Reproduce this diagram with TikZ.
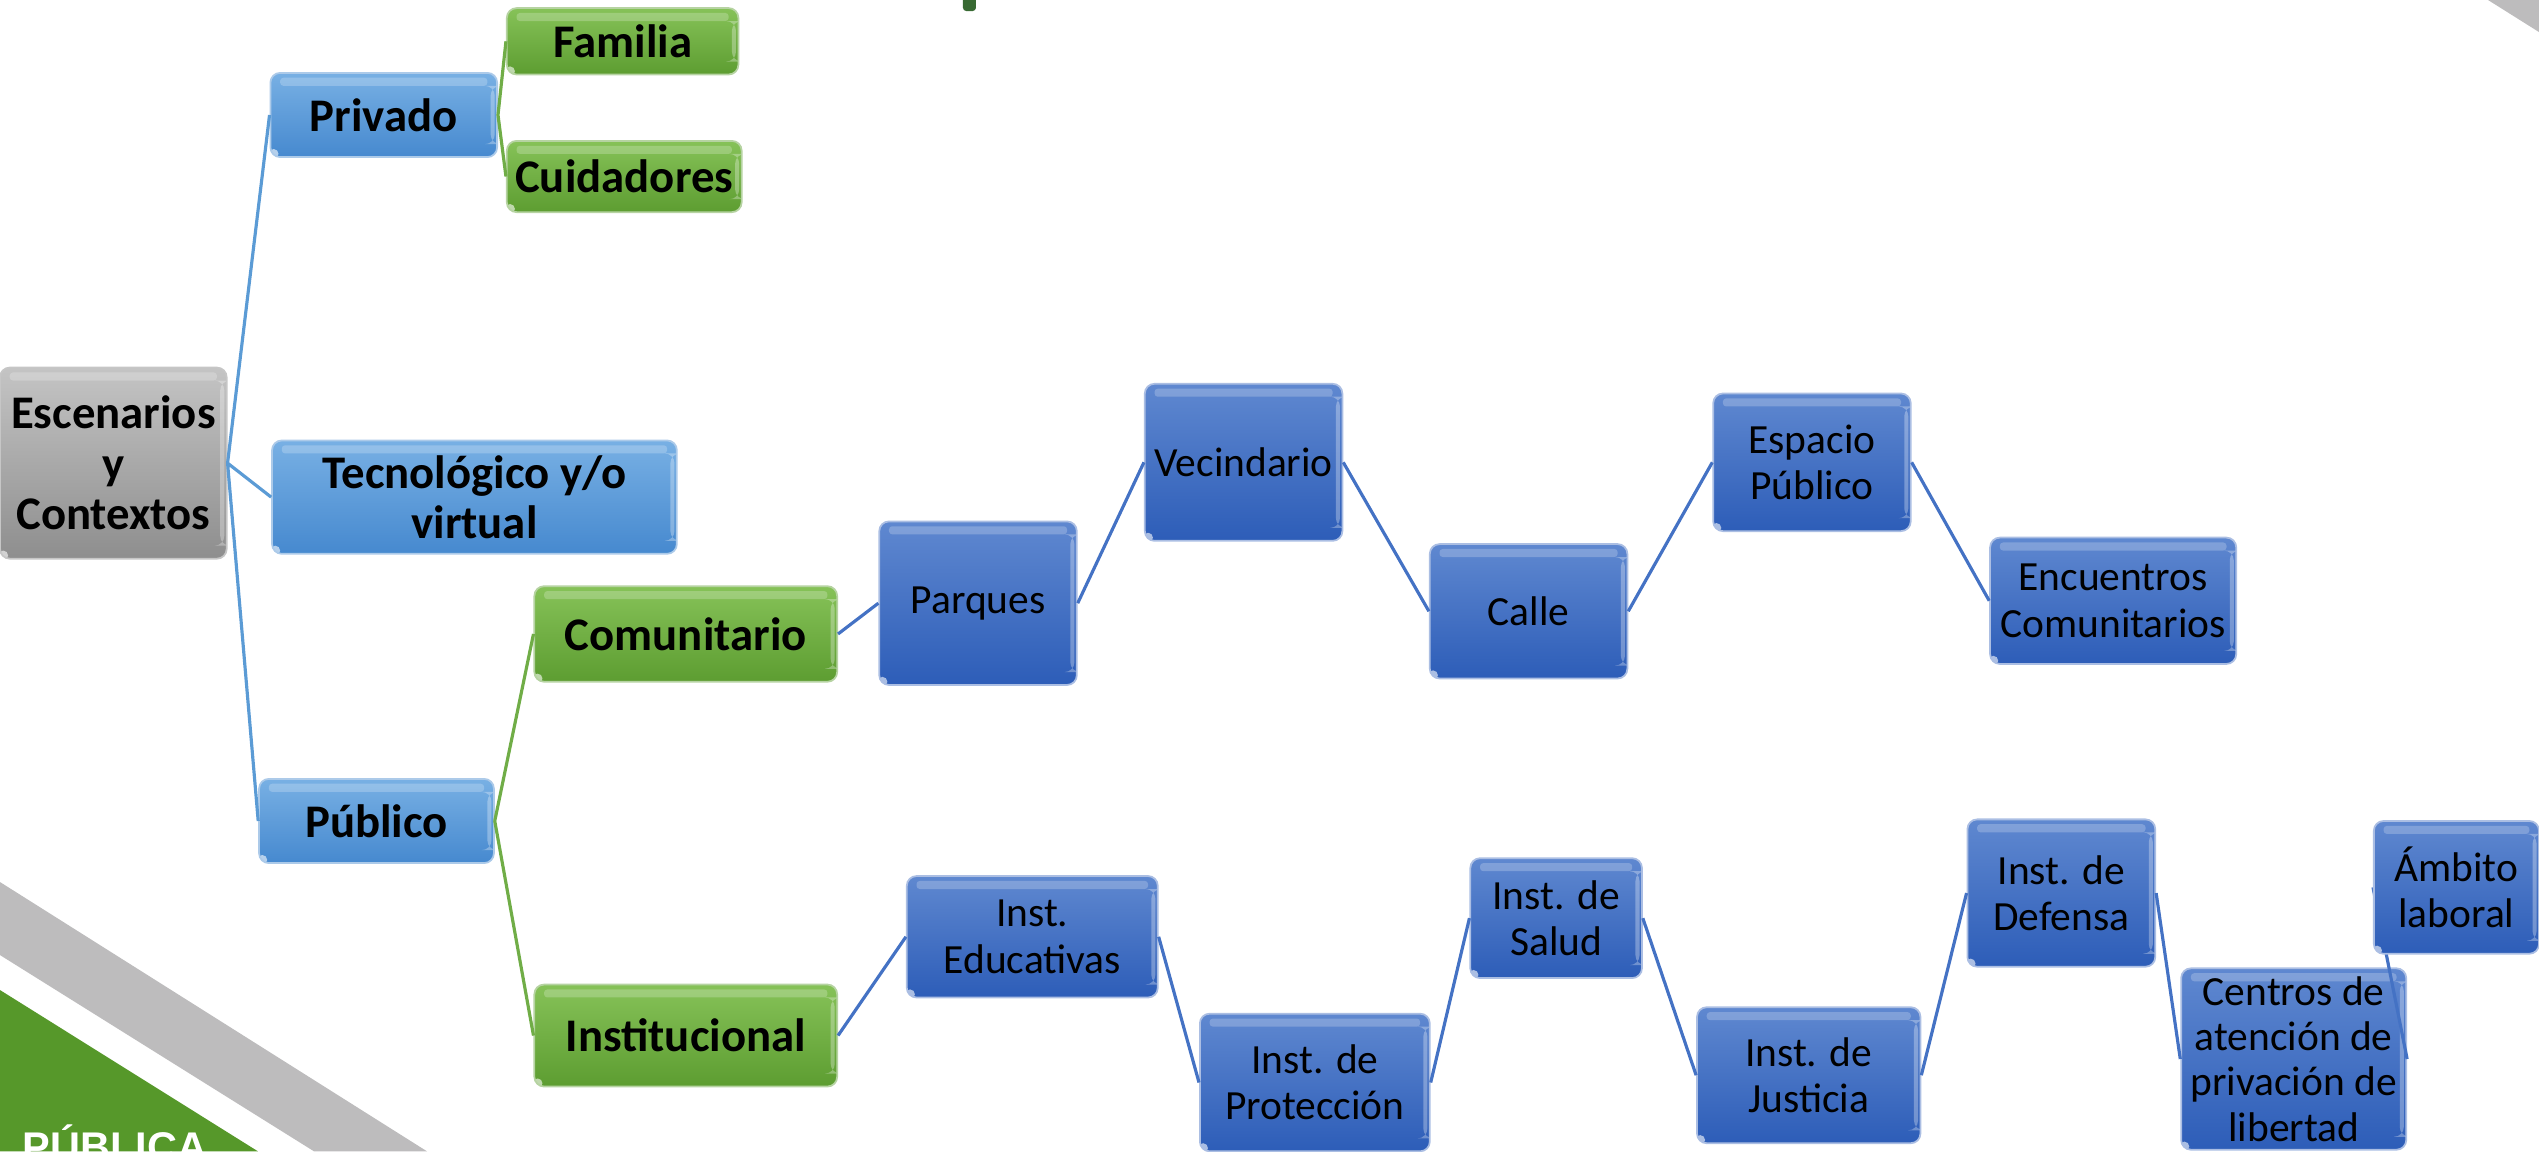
\documentclass[tikz,border=0pt]{standalone}
\usepackage{fontspec}
\setmainfont{Carlito}
\newfontfamily\arialfont{Liberation Sans}
\usepackage{tikz}
\usetikzlibrary{calc}
\pgfdeclarelayer{bg}
\pgfdeclarelayer{fg}
\pgfsetlayers{bg,main,fg}

\definecolor{greyTop}{HTML}{C4C4C4}
\definecolor{greyBot}{HTML}{8E8E8E}
\definecolor{skyTop}{HTML}{78B0E4}
\definecolor{skyBot}{HTML}{4689CF}
\definecolor{leafTop}{HTML}{86C258}
\definecolor{leafBot}{HTML}{5D9D31}
\definecolor{navyTop}{HTML}{5F88D0}
\definecolor{navyBot}{HTML}{2D5DB8}
\definecolor{skyLine}{HTML}{5B9BD5}
\definecolor{leafLine}{HTML}{70AD47}
\definecolor{navyLine}{HTML}{4472C4}
\definecolor{bandGrey}{HTML}{BDBCBD}
\definecolor{cornerGreen}{HTML}{56982A}
\definecolor{titleGreen}{HTML}{386A33}

\newlength{\pxu}
\setlength{\pxu}{0.016193cm}
\newcommand{\boldtxt}{\fontsize{13.3}{14.4}\selectfont\bfseries}
\newcommand{\plaintxt}{\fontsize{11.8}{13.2}\selectfont}

\tikzset{
  sz/.style 2 args={minimum width=#1\pxu, minimum height=#2\pxu},
  gloss/.style={path picture={
      \fill[white, opacity=0.22, rounded corners=2\pxu]
        ($(path picture bounding box.north west)+(6\pxu,-3\pxu)$) rectangle
        ($(path picture bounding box.north east)+(-6\pxu,-8\pxu)$);
      \fill[white, opacity=0.3]
        ($(path picture bounding box.north east)+(-4\pxu,-8\pxu)$) rectangle
        ($(path picture bounding box.south east)+(-1.5\pxu,8\pxu)$);
      \fill[white, opacity=0.6]
        ($(path picture bounding box.south west)+(2\pxu,2\pxu)$) circle (3\pxu);}},
  box/.style={rounded corners=6\pxu, inner sep=0pt, align=center, line width=0.5pt, gloss},
  greybox/.style={box, top color=greyTop, bottom color=greyBot, draw=greyBot!50!white, font=\boldtxt},
  skybox/.style={box, top color=skyTop, bottom color=skyBot, draw=skyBot!45!white, font=\boldtxt},
  leafbox/.style={box, top color=leafTop, bottom color=leafBot, draw=leafBot!45!white, font=\boldtxt},
  navybox/.style={box, top color=navyTop, bottom color=navyBot, draw=navyBot!40!white, font=\plaintxt},
  skylink/.style={draw=skyLine, line width=0.9pt},
  leaflink/.style={draw=leafLine, line width=0.9pt},
  navylink/.style={draw=navyLine, line width=0.9pt},
}

\begin{document}
\begin{tikzpicture}[x=1\pxu, y=-1\pxu]
    \useasboundingbox (0,0) rectangle (1568,711);

    % slide decoration
    \fill[bandGrey] (0,544.7) -- (263.7,711) -- (193.9,711) -- (0,589.8) -- cycle;
    \fill[cornerGreen] (0,611.4) -- (159.3,711) -- (0,711) -- cycle;
    \fill[bandGrey] (1536.5,0) -- (1568,0) -- (1568,19.8) -- cycle;
    \fill[titleGreen, rounded corners=2\pxu] (594.7,-6) rectangle (602.7,6.8);
    \node [anchor=base west, inner sep=0pt, text=white, font=\arialfont\bfseries\fontsize{11.8}{12}\selectfont] (pub label) at (13.6,717.3) {PÚBLICA};

    \node [greybox, sz={140}{118}] (root) at (70,286) {Escenarios\\y\\Contextos};

    \node [skybox, sz={140}{52}] (priv) at (237,71) {Privado};
    \node [leafbox, sz={143}{41}] (fam) at (384.5,25.5) {Familia};
    \node [leafbox, sz={145}{44}] (cuid) at (385.5,109) {Cuidadores};
    \node [skybox, sz={250}{70}] (tec) at (293,307) {Tecnológico y/o\\virtual};
    \node [skybox, sz={145}{52}] (pub) at (232.5,507) {Público};
    \node [leafbox, sz={187}{59}] (comu) at (423.5,391.5) {Comunitario};
    \node [leafbox, sz={187}{63}] (inst) at (423.5,639.5) {Institucional};

    \node [navybox, sz={122}{101}] (parq) at (604,372.5) {Parques};
    \node [navybox, sz={122}{97}] (vec) at (768,285.5) {Vecindario};
    \node [navybox, sz={122}{83}] (calle) at (944,377.5) {Calle};
    \node [navybox, sz={122}{85}] (esp) at (1119,285.5) {Espacio\\Público};
    \node [navybox, sz={152}{78}] (enc) at (1305,371) {Encuentros\\Comunitarios};

    \node [navybox, sz={155}{75}] (edu) at (637.5,578.5) {Inst.\\Educativas};
    \node [navybox, sz={142}{85}] (prot) at (812,668.5) {Inst. de\\Protección};
    \node [navybox, sz={106}{74}] (salud) at (961,567) {Inst. de\\Salud};
    \node [navybox, sz={138}{84}] (just) at (1117,664) {Inst. de\\Justicia};
    \node [navybox, sz={116}{91}] (def) at (1273,551.5) {Inst. de\\Defensa};
    \node [navybox, sz={139}{112}, font=\fontsize{11.8}{12.9}\selectfont] (cent) at (1416.5,654) {Centros de\\atención de\\privación de\\libertad};

    \begin{pgfonlayer}{fg}    % last box sits over its own link
        \node [navybox, sz={102}{82}] (amb) at (1517,548) {Ámbito\\laboral};
    \end{pgfonlayer}

    \draw[skylink] (root.east) -- (priv.west) (root.east) -- (tec.west) (root.east) -- (pub.west);
    \draw[leaflink] (priv.east) -- (fam.west) (priv.east) -- (cuid.west);
    \draw[leaflink] (pub.east) -- (comu.west) (pub.east) -- (inst.west);
    \draw[navylink] (comu.east) -- (parq.west) (parq.east) -- (vec.west);
    \draw[navylink] (vec.east) -- (calle.west) (calle.east) -- (esp.west) (esp.east) -- (enc.west);
    \draw[navylink] (inst.east) -- (edu.west) (edu.east) -- (prot.west) (prot.east) -- (salud.west);
    \draw[navylink] (salud.east) -- (just.west) (just.east) -- (def.west) (def.east) -- (cent.west);
    \draw[navylink] (cent.east) -- (amb.west);
\end{tikzpicture}
\end{document}
